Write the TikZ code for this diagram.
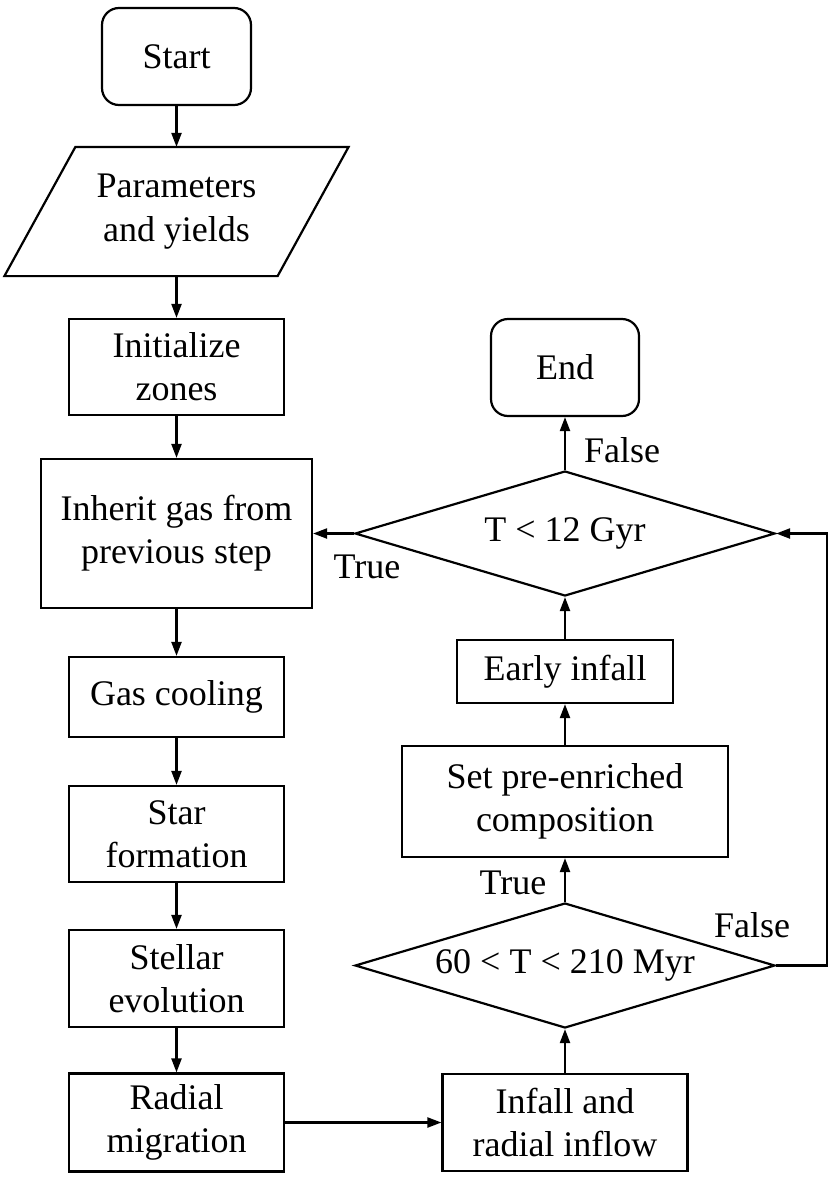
\documentclass[tikz,border=0pt]{standalone}
\usepackage{fontspec}
\setmainfont{Liberation Serif}
\usetikzlibrary{arrows.meta,calc,shapes.geometric}
\tikzset{
  every picture/.style={line width=1.1pt},
  box/.style={draw, rectangle, align=center, inner sep=0pt, minimum width=107.5pt},
  term/.style={box, rounded corners=8.5pt, minimum width=74.5pt, minimum height=48.5pt},
  cond/.style={draw, diamond, aspect=3.4, inner sep=0pt, minimum width=210pt, minimum height=62.5pt},
  lbl/.style={inner sep=0pt},
  arr/.style={-{Triangle[length=7pt,width=5pt]}},
}

\begin{document}
\begin{tikzpicture}[x=0.5pt, y=-0.5pt, every node/.style={font=\fontsize{18}{21.6}\selectfont}]
\useasboundingbox (0,0) rectangle (831,1194);
% Main loop, left column
\node[term] (start) at (176.5,56.5) {Start};
\node[box, draw=none, minimum width=135.5pt, minimum height=63.5pt] (params) at (176.5,211.5) {Parameters\\and yields};
\draw ($(params.north west)+(35.5,0)$) -- ($(params.north east)+(35.5,0)$)
  -- ($(params.south east)+(-35.5,0)$) -- ($(params.south west)+(-35.5,0)$) -- cycle;
\node[box, minimum height=48pt] (init) at (176.5,367) {Initialize\\zones};
\node[box, minimum width=135.5pt, minimum height=74.5pt] (inherit) at (176.5,533.5) {Inherit gas from\\previous step};
\node[box, minimum height=40pt] (gas) at (176.5,697) {Gas cooling};
\node[box, minimum height=48pt] (star) at (176.5,834) {Star\\formation};
\node[box, minimum height=48.5pt] (stellar) at (176.5,978.5) {Stellar\\evolution};
\node[box, minimum height=49pt] (radial) at (176.5,1122.5) {Radial\\migration};
% Inflow and time checks, right column
\node[box, minimum width=122.5pt, minimum height=48.5pt] (infall) at (565,1122.5) {Infall and\\radial inflow};
\node[cond] (window) at (565,965.5) {60 < T < 210 Myr};
\node[box, minimum width=163pt, minimum height=55.5pt] (preenr) at (565,801.5) {Set pre-enriched\\composition};
\node[box, minimum width=108pt, minimum height=31.5pt] (early) at (565,671.5) {Early infall};
\node[cond] (age) at (565,533.5) {T < 12 Gyr};
\node[term, minimum width=74pt] (end) at (565,367.5) {End};
% Branch labels
\node[lbl] (ftop) at (622,450) {False};
\node[lbl] (tleft) at (367,567) {True};
\node[lbl] (tup) at (513,883) {True};
\node[lbl] (fright) at (752,925) {False};
% Connectors
\foreach \a/\b in {start/params, params/init, init/inherit, inherit/gas, gas/star, star/stellar, stellar/radial}
  \draw[arr] (\a.south) -- (\b.north);
\draw[arr] (radial) -- (infall);
\foreach \a/\b in {infall/window, window/preenr, preenr/early, early/age, age/end}
  \draw[arr] (\a.north) -- (\b.south);
\draw[arr] (age.west) -- (inherit.east);
\coordinate (loop) at (827,965.5);
\draw[arr] (window.east) -- (loop) |- (age.east);
\end{tikzpicture}
\end{document}
